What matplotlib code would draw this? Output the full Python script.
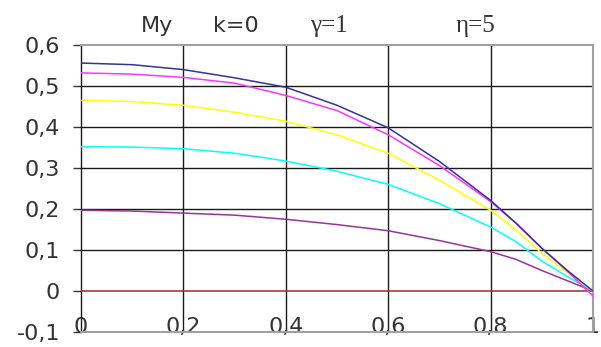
import matplotlib
matplotlib.use("Agg")
import matplotlib.pyplot as plt

# data
x = [0, 0.1, 0.2, 0.3, 0.4, 0.5, 0.6, 0.7, 0.8, 0.85, 0.9, 0.95, 1.0]
blue = [0.556, 0.552, 0.540, 0.520, 0.497, 0.453, 0.398, 0.316, 0.221, 0.165, 0.104, 0.050, 0.0]
magenta = [0.532, 0.529, 0.521, 0.507, 0.477, 0.440, 0.381, 0.306, 0.218, 0.165, 0.105, 0.048, -0.012]
yellow = [0.465, 0.462, 0.453, 0.436, 0.414, 0.381, 0.336, 0.270, 0.197, 0.148, 0.092, 0.045, 0.0]
cyan = [0.352, 0.351, 0.347, 0.336, 0.317, 0.292, 0.260, 0.213, 0.156, 0.120, 0.073, 0.035, 0.0]
purple = [0.197, 0.195, 0.190, 0.185, 0.175, 0.162, 0.147, 0.123, 0.096, 0.077, 0.050, 0.025, 0.0]
brown = [0.0] * len(x)

series = [
    (brown, "#a02828"),
    (purple, "#993399"),
    (cyan, "#00ffff"),
    (yellow, "#ffff00"),
    (magenta, "#ff33ff"),
    (blue, "#333399"),
]

xticks = [0, 0.2, 0.4, 0.6, 0.8, 1]
xticklabels = ["0", "0,2", "0,4", "0,6", "0,8", "1"]
yticks = [-0.1, 0, 0.1, 0.2, 0.3, 0.4, 0.5, 0.6]
yticklabels = ["-0,1", "0", "0,1", "0,2", "0,3", "0,4", "0,5", "0,6"]

plt.rcParams['font.family'] = ['DejaVu Sans']

fig = plt.figure(figsize=(6.01, 3.47), dpi=100)
ax = fig.add_axes([81 / 601, 1 - 332 / 347, 512 / 601, 287 / 347])

# grid lines
for gx in xticks[1:-1]:
    ax.axvline(gx, color="#1a1a1a", lw=1.0, zorder=1)
for gy in yticks[2:-1]:
    ax.axhline(gy, color="#1a1a1a", lw=1.0, zorder=1)

for ys, c in series:
    ax.plot(x, ys, color=c, lw=1.1, zorder=3)

ax.set_xlim(0, 1)
ax.set_ylim(-0.1, 0.6)
ax.set_xticks(xticks)
ax.set_xticklabels(xticklabels)
ax.set_yticks(yticks)
ax.set_yticklabels(yticklabels)
ax.tick_params(axis="x", length=0, pad=-11, labelsize=16, colors="#333333")
ax.tick_params(axis="y", length=6, width=1.0, direction="out", pad=9, labelsize=16, colors="#333333")

for side in ["top", "right", "bottom"]:
    ax.spines[side].set_color("#a0a0a0")
    ax.spines[side].set_linewidth(1.5)
ax.spines["left"].set_color("#1a1a1a")
ax.spines["left"].set_linewidth(1.0)

# title pieces
ax.text(0.148, 1.045, "My", transform=ax.transAxes, ha="center", va="baseline", fontsize=16, color="#333333")
ax.text(0.303, 1.045, "k=0", transform=ax.transAxes, ha="center", va="baseline", fontsize=16, color="#333333")
ax.text(0.484, 1.045, "γ=1", transform=ax.transAxes, ha="center", va="baseline", fontsize=18,
        family=["Liberation Serif", "DejaVu Serif"], color="#333333")
ax.text(0.771, 1.045, "η=5", transform=ax.transAxes, ha="center", va="baseline", fontsize=18,
        family=["Liberation Serif", "DejaVu Serif"], color="#333333")

fig.savefig("out.png", dpi=100)
